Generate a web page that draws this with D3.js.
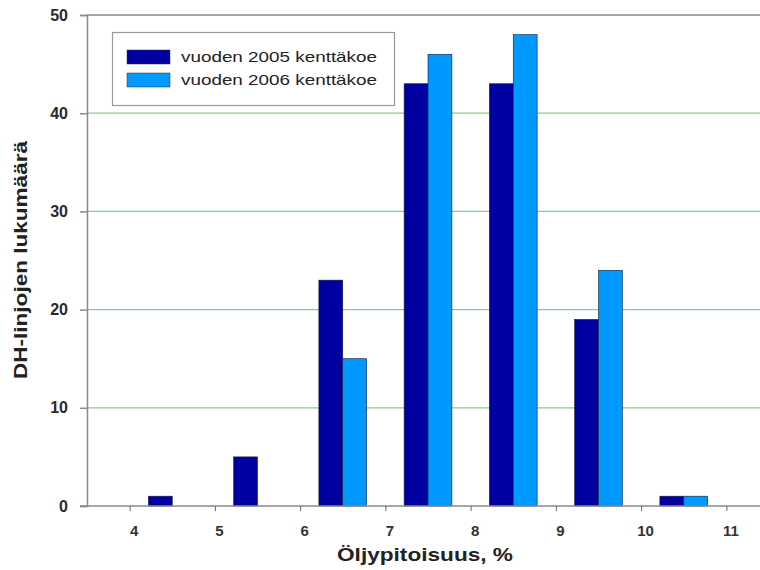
<!DOCTYPE html>
<html><head><meta charset="utf-8">
<script src="https://cdn.jsdelivr.net/npm/d3@7"></script>
<style>body{margin:0;background:#fff}svg{display:block}</style>
</head><body>
<script>
const categories = [4, 5, 6, 7, 8, 9, 10];
const series2005 = [1, 5, 23, 43, 43, 19, 1];
const series2006 = [0, 0, 15, 46, 48, 24, 1];
const seriesNames = ["vuoden 2005 kenttäkoe", "vuoden 2006 kenttäkoe"];
const xTicks = [4, 5, 6, 7, 8, 9, 10, 11];
const yTicks = [0, 10, 20, 30, 40, 50];
const colors = ["#0000A0", "#0099FF"];

const W = 760, H = 570;
const svg = d3.select("body").append("svg").attr("width", W).attr("height", H);
const x = d3.scaleLinear().domain([3.5, 11.75]).range([87, 87 + 8.25 * 85.25]);
const y = d3.scaleLinear().domain([0, 50]).range([506, 15]);
const font = "'Liberation Sans', Arial, sans-serif";

// gridlines
svg.append("g").selectAll("line").data(yTicks.filter(d => d > 0 && d < 50)).join("line")
  .attr("x1", 87).attr("x2", W).attr("y1", d => y(d)).attr("y2", d => y(d))
  .attr("stroke", "#7ed37e").attr("stroke-width", 1.2);
// top border
svg.append("line").attr("x1", 87).attr("x2", W).attr("y1", y(50)).attr("y2", y(50))
  .attr("stroke", "#8a8a8a").attr("stroke-width", 1.5);

// bars
const bw = 0.28;
const data = [];
categories.forEach((c, i) => {
  data.push({c, v: series2005[i], s: 0});
  data.push({c, v: series2006[i], s: 1});
});
svg.append("g").selectAll("rect").data(data).join("rect")
  .attr("x", d => x(d.c + 0.5 - bw + d.s * bw))
  .attr("width", d => x(d.c + 0.5 + bw) - x(d.c + 0.5))
  .attr("y", d => y(d.v))
  .attr("height", d => y(0) - y(d.v))
  .attr("fill", d => colors[d.s])
  .attr("stroke", d => d.v > 0 ? "#1a1a3a" : "none").attr("stroke-width", 0.6);

// y axis
const ya = svg.append("g").attr("transform", "translate(87,0)")
  .call(d3.axisLeft(y).tickValues(yTicks).tickSize(7).tickPadding(12));
ya.select(".domain").attr("stroke", "#8a8a8a").attr("stroke-width", 1.5);
ya.selectAll(".tick line").attr("stroke", "#8a8a8a").attr("stroke-width", 1.5);
ya.selectAll(".tick text").attr("font-family", font).attr("font-size", 16)
  .attr("font-weight", "bold").attr("fill", "#2a2a2a");

// x axis
const xa = svg.append("g").attr("transform", "translate(0,506)")
  .call(d3.axisBottom(x).tickValues(xTicks).tickFormat(d3.format("d")).tickSize(5).tickPadding(14));
xa.select(".domain").attr("d", `M80,0H${W}`).attr("stroke", "#8a8a8a").attr("stroke-width", 1.5);
xa.selectAll(".tick line").attr("stroke", "#666").attr("stroke-width", 1);
xa.selectAll(".tick text").attr("font-family", font).attr("font-size", 15)
  .attr("font-weight", "bold").attr("fill", "#333").attr("dx", 4);

// axis titles
svg.append("text").attr("x", 425).attr("y", 561).attr("text-anchor", "middle")
  .attr("font-family", font).attr("font-size", 19).attr("font-weight", "bold").attr("fill", "#222")
  .attr("textLength", 176).attr("lengthAdjust", "spacingAndGlyphs")
  .text("Öljypitoisuus, %");
svg.append("text").attr("transform", "translate(27,260) rotate(-90)").attr("text-anchor", "middle")
  .attr("font-family", font).attr("font-size", 18).attr("font-weight", "bold").attr("fill", "#222")
  .attr("textLength", 238).attr("lengthAdjust", "spacingAndGlyphs")
  .text("DH-linjojen lukumäärä");

// legend
const lg = svg.append("g");
lg.append("rect").attr("x", 112.5).attr("y", 32.5).attr("width", 282).attr("height", 73)
  .attr("fill", "#fff").attr("stroke", "#999").attr("stroke-width", 1.2);
seriesNames.forEach((n, i) => {
  lg.append("rect").attr("x", 127).attr("y", 50 + i * 23).attr("width", 43).attr("height", 14)
    .attr("fill", colors[i]).attr("stroke", "#333").attr("stroke-width", 0.5);
  lg.append("text").attr("x", 181).attr("y", 57 + i * 23).attr("dy", "0.35em")
    .attr("font-family", font).attr("font-size", 15).attr("fill", "#222")
    .attr("textLength", 196).attr("lengthAdjust", "spacingAndGlyphs").text(n);
});
</script>
</body></html>
